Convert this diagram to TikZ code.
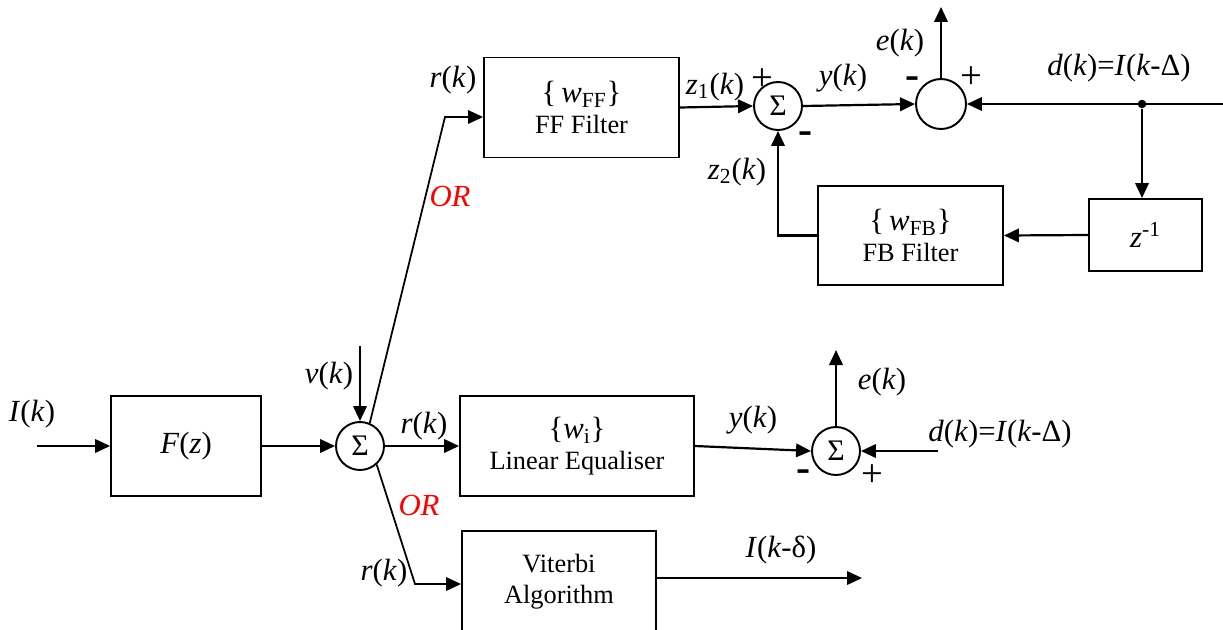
\documentclass[tikz,border=0pt]{standalone}
\usepackage{fontspec}
\setmainfont{Liberation Serif}
\usetikzlibrary{arrows.meta}
\newcommand{\ofk}[1]{\textit{#1}(\textit{k})}

\begin{document}
\begin{tikzpicture}[x=0.02cm, y=-0.02cm, >={Triangle[length=0.3cm, width=0.27cm]},
  block/.style={draw, line width=1.1pt, inner sep=0pt, align=center, font=\fontsize{15}{17.5}\selectfont},
  sumnode/.style={draw, circle, line width=1.1pt, minimum size=0.96cm, inner sep=0pt, font=\fontsize{17}{19}\selectfont},
  sigline/.style={->, line width=1.25pt},
  lbl/.style={font=\fontsize{17.5}{20}\selectfont, inner sep=0pt},
  sgn/.style={font=\fontsize{22}{24}\selectfont, inner sep=0pt},
  msgn/.style={font=\fontsize{24}{26}\selectfont\bfseries, inner sep=0pt}]

\definecolor{orcolor}{RGB}{255, 0, 0}

\useasboundingbox (0,0) rectangle (1223,629);

\node[block, minimum width=3cm, minimum height=2cm] (fz) at (186,446) {\fontsize{17.5}{20}\selectfont\textit{F}(\textit{z})};
\node[sumnode] (sumA) at (360,446) {Σ};
\node[block, minimum width=4.68cm, minimum height=2cm] (lin) at (577,446) {{\fontsize{17.5}{20}\selectfont\{\textit{w}\textsubscript{i}\}}\\Linear Equaliser};
\node[sumnode] (sumB) at (836,451) {Σ};
\node[block, minimum width=3.88cm, minimum height=2.02cm] (vit) at (559,581.5) {Viterbi\\Algorithm};

\node[block, minimum width=3.9cm, minimum height=2cm] (ff) at (581.5,107.5) {{\fontsize{17.5}{20}\selectfont\{\,\textit{w}\textsubscript{FF}\}}\\FF Filter};
\node[sumnode] (sumC) at (778,106) {Σ};
\node[sumnode, minimum size=1cm] (sumD) at (941,104) {};
\node[block, minimum width=3.7cm, minimum height=1.98cm] (fb) at (910.5,235.5) {{\fontsize{17.5}{20}\selectfont\{\,\textit{w}\textsubscript{FB}\}}\\FB Filter};
\node[block, minimum width=2.26cm, minimum height=1.44cm] (zd) at (1145.5,235) {\fontsize{17.5}{20}\selectfont\textit{z}\textsuperscript{-1}};
\node[circle, fill, inner sep=0pt, minimum size=0.17cm] (tap) at (1142,104) {};

\coordinate (iin) at (37,446);
\coordinate (vin) at (360,346);
\coordinate (ffk) at (445,117);
\coordinate (vitk) at (415,584);
\coordinate (eoutB) at (836,350);
\coordinate (dinB) at (938,451);
\coordinate (vout) at (862,578);
\coordinate (eoutD) at (941,7);
\coordinate (dinD) at (1223,104);

\draw[sigline] (iin) -- (fz.west);
\draw[sigline] (fz.east) -- (sumA.west);
\draw[sigline] (vin) -- (sumA.north);
\draw[sigline] (sumA.east) -- (lin.west);
\draw[sigline, line width=1pt] (sumA.67) -- (ffk) -- (ffk -| ff.west);
\draw[sigline, line width=1pt] (sumA.-48) -- (vitk) -- (vitk -| vit.west);
\draw[sigline] (lin.east) -- (sumB.west);
\draw[sigline] (dinB) -- (sumB.east);
\draw[sigline] (sumB.north) -- (eoutB);
\draw[sigline] (vit.east |- vout) -- (vout);

\draw[sigline] (ff.east) -- (sumC.west);
\draw[sigline] (sumC.east) -- (sumD.west);
\draw[sigline] (dinD) -- (sumD.east);
\draw[sigline] (sumD.north) -- (eoutD);
\draw[sigline] (tap) -- (tap |- zd.north);
\draw[sigline] (zd.west) -- (fb.east);
\draw[sigline] (fb.west) -| (sumC.south);

\node[lbl] (lI) at (32,414) {\ofk{I}};
\node[lbl] (lv) at (329,376) {\ofk{v}};
\node[lbl] (lr1) at (424,426) {\ofk{r}};
\node[lbl] (lr2) at (453,80) {\ofk{r}};
\node[lbl] (lr3) at (384,573) {\ofk{r}};
\node[lbl, orcolor] (or1) at (450,196) {\textit{OR}};
\node[lbl, orcolor] (or2) at (419,505) {\textit{OR}};
\node[lbl] (lz1) at (715,87) {\textit{z}\textsubscript{1}(\textit{k})};
\node[lbl] (lz2) at (737,172) {\textit{z}\textsubscript{2}(\textit{k})};
\node[sgn] (pC) at (762,80) {+};
\node[msgn] (mC) at (806,138) {-};
\node[lbl] (ly1) at (843,78) {\ofk{y}};
\node[lbl] (le1) at (900,43) {\ofk{e}};
\node[msgn] (mD) at (913,83) {-};
\node[sgn] (pD) at (971,78) {+};
\node[lbl] (ld1) at (1119,68) {\ofk{d}=\textit{I}(\textit{k}-Δ)};
\node[lbl] (ly2) at (753,420) {\ofk{y}};
\node[lbl] (le2) at (882,382) {\ofk{e}};
\node[lbl] (ld2) at (1000,434) {\ofk{d}=\textit{I}(\textit{k}-Δ)};
\node[msgn] (mB) at (804,476) {-};
\node[sgn] (pB) at (872,476) {+};
\node[lbl] (lId) at (781,550) {\textit{I}(\textit{k}-δ)};

\end{tikzpicture}
\end{document}
